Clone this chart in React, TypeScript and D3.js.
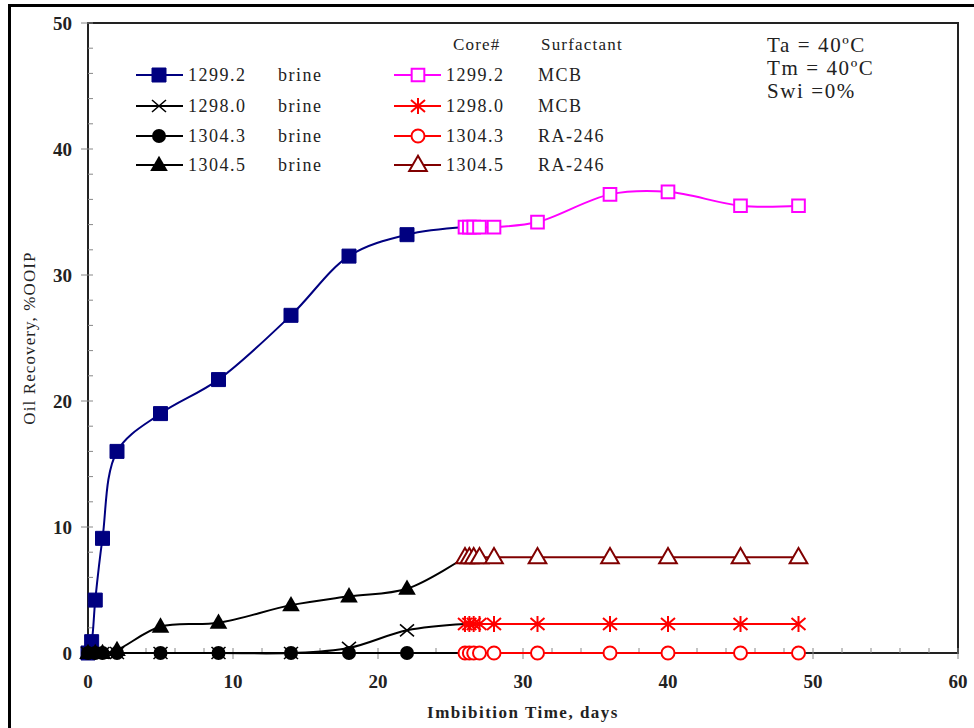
import React from "react";
import * as d3 from "d3";

// brine stage (days, %OOIP)
const brineDays = [0, 0.5, 1, 2, 5, 9, 14, 18, 22];
const blueBrineDays = [0, 0.25, 0.5, 1, 2, 5, 9, 14, 18, 22];
const rec12992brine = [0, 0.9, 4.2, 9.1, 16.0, 19.0, 21.7, 26.8, 31.5, 33.2];
const rec12980brine = [0, 0, 0, 0, 0, 0, 0, 0.4, 1.8];
const rec13043brine = [0, 0, 0, 0, 0, 0, 0, 0, 0];
const rec13045brine = [0, 0, 0, 0.25, 2.1, 2.4, 3.8, 4.5, 5.1];

// surfactant stage
const surfDays = [26, 26.3, 26.6, 27, 28, 31, 36, 40, 45, 49];
const rec12992mcb = [33.8, 33.8, 33.8, 33.8, 33.8, 34.2, 36.4, 36.6, 35.5, 35.5];
const rec12980mcb = [2.3, 2.3, 2.3, 2.3, 2.3, 2.3, 2.3, 2.3, 2.3, 2.3];
const rec13043ra = [0, 0, 0, 0, 0, 0, 0, 0, 0, 0];
const rec13045ra = [7.6, 7.6, 7.6, 7.6, 7.6, 7.6, 7.6, 7.6, 7.6, 7.6];

const coreNames = ["1299.2", "1298.0", "1304.3", "1304.5"];
const surfNames = ["MCB", "MCB", "RA-246", "RA-246"];
const notes = ["Ta = 40ºC", "Tm = 40ºC", "Swi =0%"];

const xTicks = [0, 10, 20, 30, 40, 50, 60];
const yTicks = [0, 10, 20, 30, 40, 50];

const W = 974;
const H = 728;
const m = { left: 88, right: 958, top: 23, bottom: 653 };
const FONT = "'Liberation Serif', 'Times New Roman', serif";

const x = d3.scaleLinear().domain([0, 60]).range([m.left, m.right]);
const y = d3.scaleLinear().domain([0, 50]).range([m.bottom, m.top]);

type Pt = [number, number];
const zip = (xs: number[], ys: number[]): Pt[] => xs.map((d, i) => [d, ys[i]]);

const line = d3
  .line<Pt>()
  .x((d) => x(d[0]))
  .y((d) => y(d[1]))
  .curve(d3.curveCatmullRom.alpha(0.5));

type Kind = "fsquare" | "x" | "fcircle" | "ftri" | "osquare" | "star" | "ocircle" | "otri";

function Marker({ kind, cx, cy, color }: { kind: Kind; cx: number; cy: number; color: string }) {
  const t = `translate(${cx},${cy})`;
  const sq = d3.symbol(d3.symbolSquare, 196)();
  const tri = d3.symbol(d3.symbolTriangle, 135)();
  switch (kind) {
    case "fsquare":
      return <path d={sq!} transform={t} fill={color} stroke={color} />;
    case "osquare":
      return <path d={d3.symbol(d3.symbolSquare, 160)()!} transform={t} fill="#fff" stroke={color} strokeWidth={2} />;
    case "fcircle":
      return <circle cx={cx} cy={cy} r={7} fill={color} />;
    case "ocircle":
      return <circle cx={cx} cy={cy} r={6.5} fill="#fff" stroke={color} strokeWidth={2} />;
    case "ftri":
      return <path d={tri!} transform={`translate(${cx},${cy + 1})`} fill={color} />;
    case "otri":
      return <path d={tri!} transform={`translate(${cx},${cy + 1})`} fill="#fff" stroke={color} strokeWidth={2} />;
    case "x":
      return <path d="M-7,-6L7,6M-7,6L7,-6" transform={t} stroke={color} strokeWidth={1.6} fill="none" />;
    case "star":
      return <path d="M-7,-6L7,6M-7,6L7,-6M0,-8V8" transform={t} stroke={color} strokeWidth={2} fill="none" />;
  }
}

const brineSeries = [
  { pts: zip(blueBrineDays, rec12992brine), link: rec12992mcb[0], color: "#000080", kind: "fsquare" as Kind },
  { pts: zip(brineDays, rec12980brine), link: rec12980mcb[0], color: "#000", kind: "x" as Kind },
  { pts: zip(brineDays, rec13043brine), link: rec13043ra[0], color: "#000", kind: "fcircle" as Kind },
  { pts: zip(brineDays, rec13045brine), link: rec13045ra[0], color: "#000", kind: "ftri" as Kind },
];

const surfSeries = [
  { pts: zip(surfDays, rec12992mcb), color: "#ff00ff", kind: "osquare" as Kind },
  { pts: zip(surfDays, rec12980mcb), color: "#ff0000", kind: "star" as Kind },
  { pts: zip(surfDays, rec13043ra), color: "#ff0000", kind: "ocircle" as Kind },
  { pts: zip(surfDays, rec13045ra), color: "#800000", kind: "otri" as Kind },
];

export default function App() {
  const minor = d3.range(0, 61, 2);
  const minorY = d3.range(0, 51, 2);
  const rowY = [75, 106, 136, 165];

  return (
    <div style={{ position: "fixed", left: 0, top: 0, width: W, height: H, background: "#fff" }}>
      <svg width={W} height={H} style={{ display: "block" }} fontFamily={FONT}>
        <rect width={W} height={H} fill="#fff" />
        {/* outer frame, only left and top show */}
        <path d={`M9.5,${H}V5.5H${W}`} fill="none" stroke="#000" strokeWidth={3} />

        {/* plot frame */}
        <rect x={m.left} y={m.top} width={m.right - m.left} height={m.bottom - m.top} fill="none" stroke="#222" strokeWidth={2} />

        {/* ticks */}
        {minor.map((t) => (
          <line key={"mx" + t} x1={x(t)} x2={x(t)} y1={m.bottom} y2={m.bottom - 5} stroke="#888" />
        ))}
        {xTicks.map((t) => (
          <g key={"x" + t}>
            <line x1={x(t)} x2={x(t)} y1={m.bottom} y2={m.bottom + 6} stroke="#888" />
            <text x={x(t)} y={688} textAnchor="middle" fontSize={19} fontWeight="bold" fill="#222">
              {t}
            </text>
          </g>
        ))}
        {minorY.map((t) => (
          <line key={"my" + t} x1={m.left} x2={m.left + 5} y1={y(t)} y2={y(t)} stroke="#888" />
        ))}
        {yTicks.map((t) => (
          <g key={"y" + t}>
            <line x1={m.left - 7} x2={m.left} y1={y(t)} y2={y(t)} stroke="#888" />
            <text x={72} y={y(t)} dy="0.35em" textAnchor="end" fontSize={19} fontWeight="bold" fill="#222">
              {t}
            </text>
          </g>
        ))}

        {/* axis titles */}
        <text x={523} y={718} textAnchor="middle" fontSize={17} fontWeight="bold" letterSpacing={1.5} fill="#222">
          Imbibition Time, days
        </text>
        <text transform="translate(35,338) rotate(-90)" textAnchor="middle" fontSize={17} letterSpacing={1.1} fill="#222">
          Oil Recovery, %OOIP
        </text>

        {/* brine lines, joined to first surfactant point */}
        {brineSeries.map((s, i) => (
          <path
            key={"bl" + i}
            d={line([...s.pts, [surfDays[0], s.link]])!}
            fill="none"
            stroke={s.color}
            strokeWidth={2}
          />
        ))}
        {brineSeries.map((s, i) =>
          s.pts.map((p, j) => <Marker key={`bm${i}-${j}`} kind={s.kind} cx={x(p[0])} cy={y(p[1])} color={s.color} />)
        )}

        {/* surfactant stage */}
        {surfSeries.map((s, i) => (
          <path key={"sl" + i} d={line(s.pts)!} fill="none" stroke={s.color} strokeWidth={2} />
        ))}
        {surfSeries.map((s, i) =>
          s.pts.map((p, j) => <Marker key={`sm${i}-${j}`} kind={s.kind} cx={x(p[0])} cy={y(p[1])} color={s.color} />)
        )}

        {/* legend */}
        <text x={453} y={50} fontSize={17} letterSpacing={1.2} fill="#222">Core#</text>
        <text x={541} y={50} fontSize={17} letterSpacing={1.2} fill="#222">Surfactant</text>
        {coreNames.map((c, i) => (
          <g key={"lg" + i} fontSize={18} letterSpacing={1.5} fill="#222">
            <line x1={136} x2={183} y1={rowY[i]} y2={rowY[i]} stroke={brineSeries[i].color} strokeWidth={2} />
            <Marker kind={brineSeries[i].kind} cx={159} cy={rowY[i]} color={brineSeries[i].color} />
            <text x={188} y={rowY[i]} dy="0.35em">{c}</text>
            <text x={278} y={rowY[i]} dy="0.35em">brine</text>
            <line x1={394} x2={441} y1={rowY[i]} y2={rowY[i]} stroke={surfSeries[i].color} strokeWidth={2} />
            <Marker kind={surfSeries[i].kind} cx={418} cy={rowY[i]} color={surfSeries[i].color} />
            <text x={446} y={rowY[i]} dy="0.35em">{c}</text>
            <text x={538} y={rowY[i]} dy="0.35em">{surfNames[i]}</text>
          </g>
        ))}

        {/* conditions */}
        {notes.map((n, i) => (
          <text key={"n" + i} x={767} y={52 + i * 23} fontSize={21} letterSpacing={1.6} fill="#222">
            {n}
          </text>
        ))}
      </svg>
    </div>
  );
}
